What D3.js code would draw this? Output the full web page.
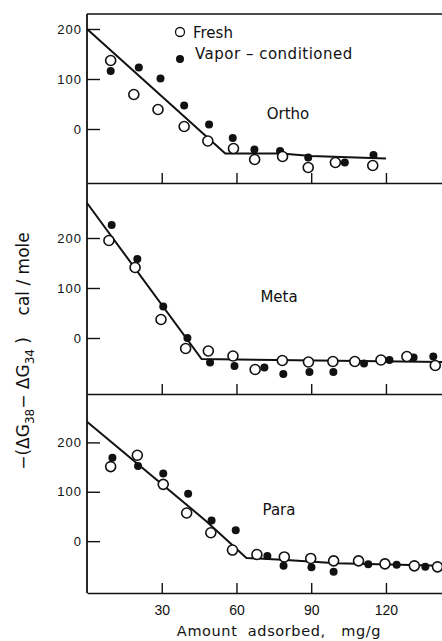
<!DOCTYPE html>
<html>
<head>
<meta charset="utf-8">
<script src="https://cdn.jsdelivr.net/npm/d3@7"></script>
<style>
	body { margin: 0; background: #fff; }
	svg { display: block; font-family: "DejaVu Sans", sans-serif; }
</style>
</head>
<body>
<svg id="chart" width="442" height="641"></svg>
<script>
// Data [amount adsorbed mg/g, -(dG38 - dG34) cal/mole]
const orthoFresh = [[9.5,137],[18.8,69],[28.5,39],[39,5],[48.5,-24],[58.8,-39],[67.3,-61],[78.5,-55],[88.8,-77],[99.7,-67],[114.7,-73]];
const orthoVapor = [[9.5,116],[20.8,123],[29.5,101],[39,47],[49,9],[58.5,-18],[67.2,-41],[77.5,-44],[88.8,-57],[103.5,-67],[115,-52]];
const orthoLine = [[0,200],[55.5,-49],[78,-49],[90,-54],[120,-59]];

const metaFresh = [[8.8,195],[19.3,141],[29.7,37],[39.6,-21],[48.7,-26],[58.6,-36],[67.5,-63],[78.4,-45],[88.9,-48],[98.7,-47],[107.5,-47],[118,-44],[128.4,-37],[139.8,-55]];
const metaVapor = [[9.9,226],[20.2,158],[30.6,63],[40.3,0],[49.4,-49],[59.2,-56],[71.2,-59],[78.8,-72],[89.3,-68],[98.9,-68],[111.2,-51],[121.4,-44],[131.1,-39],[139,-37]];
const metaLine = [[0,270],[46,-42],[143,-48]];

const paraFresh = [[9.5,151],[20.2,174],[30.6,115],[40,57],[49.7,17],[58.4,-18],[68.2,-27],[79.2,-32],[89.8,-35],[99,-40],[109,-40],[119.6,-46],[131.4,-50],[140.7,-52]];
const paraVapor = [[10.2,169],[20.5,152],[30.6,137],[40.6,96],[50,42],[59.7,22],[72.4,-30],[78.9,-50],[90.1,-53],[99,-62],[112.9,-47],[124.3,-48],[135.8,-52]];
const paraLine = [[0,242],[48,40],[64,-34],[80,-38],[100,-45],[143,-50]];

const xTicks = [30, 60, 90, 120];
const yTicks = [0, 100, 200];

const panels = [
	{ name: "Ortho", fresh: orthoFresh, vapor: orthoVapor, line: orthoLine, top: 14, bottom: 183, domain: [-108, 230], lx: 288, ly: 119 },
	{ name: "Meta", fresh: metaFresh, vapor: metaVapor, line: metaLine, top: 183, bottom: 394, domain: [-112, 310], lx: 279, ly: 302 },
	{ name: "Para", fresh: paraFresh, vapor: paraVapor, line: paraLine, top: 394, bottom: 593, domain: [-105, 298], lx: 279, ly: 515 }
];

const svg = d3.select("#chart");
const x = d3.scaleLinear().domain([0, 142.5]).range([87, 442]);

panels.forEach(function (p, i) {
	const y = d3.scaleLinear().domain(p.domain).range([p.bottom, p.top]);

	// y ticks, pointing inwards
	svg.append("g")
		.attr("transform", "translate(" + x(0) + ",0)")
		.call(d3.axisLeft(y).tickValues(yTicks).tickSizeInner(-13).tickSizeOuter(0).tickPadding(20))
		.call(g => g.select(".domain").remove())
		.call(g => g.selectAll("line").attr("stroke", "#111").attr("stroke-width", 1.4))
		.call(g => g.selectAll("text").attr("fill", "#111").style("font-size", "13px")
			.style("letter-spacing", "1px").attr("dx", "15px"));

	// x ticks on the bottom of every panel
	svg.append("g")
		.attr("transform", "translate(0," + p.bottom + ")")
		.call(d3.axisBottom(x).tickValues(xTicks).tickSizeInner(-10).tickSizeOuter(0).tickPadding(12))
		.call(g => g.select(".domain").attr("stroke", "#111").attr("stroke-width", 1.6))
		.call(g => g.selectAll("line").attr("stroke", "#111").attr("stroke-width", 1.4))
		.call(g => g.selectAll("text").attr("fill", "#111").style("font-size", "14px")
			.style("display", i === 2 ? null : "none"));

	// fitted line
	svg.append("path")
		.datum(p.line)
		.attr("fill", "none")
		.attr("stroke", "#111")
		.attr("stroke-width", 2)
		.attr("d", d3.line().x(d => x(d[0])).y(d => y(d[1])));

	// vapor-conditioned
	svg.append("g")
		.selectAll("circle")
		.data(p.vapor)
		.join("circle")
		.attr("cx", d => x(d[0]))
		.attr("cy", d => y(d[1]))
		.attr("r", 4)
		.attr("fill", "#111");

	// fresh
	svg.append("g")
		.selectAll("circle")
		.data(p.fresh)
		.join("circle")
		.attr("cx", d => x(d[0]))
		.attr("cy", d => y(d[1]))
		.attr("r", 5)
		.attr("fill", "#fff")
		.attr("stroke", "#111")
		.attr("stroke-width", 1.6);

	svg.append("text")
		.attr("x", p.lx)
		.attr("y", p.ly)
		.attr("text-anchor", "middle")
		.style("font-size", "15px")
		.attr("fill", "#111")
		.text(p.name);
});

// frame: left axis and top border
svg.append("line")
	.attr("x1", x(0)).attr("x2", x(0))
	.attr("y1", 14).attr("y2", 593)
	.attr("stroke", "#111").attr("stroke-width", 1.8);
svg.append("line")
	.attr("x1", x(0)).attr("x2", 442)
	.attr("y1", 14).attr("y2", 14)
	.attr("stroke", "#111").attr("stroke-width", 1.6);

// Legend
svg.append("circle").attr("cx", 180).attr("cy", 32).attr("r", 4.5)
	.attr("fill", "#fff").attr("stroke", "#111").attr("stroke-width", 1.3);
svg.append("circle").attr("cx", 180).attr("cy", 59).attr("r", 4).attr("fill", "#111");
svg.append("text").attr("x", 193).attr("y", 38).style("font-size", "15px").attr("fill", "#111").text("Fresh");
svg.append("text").attr("x", 195).attr("y", 59).style("font-size", "15px").attr("fill", "#111")
	.style("letter-spacing", "0.5px").text("Vapor – conditioned");

// Axis titles
svg.append("text")
	.attr("x", 279).attr("y", 636)
	.attr("text-anchor", "middle")
	.style("font-size", "14.5px")
	.style("letter-spacing", "0.6px")
	.attr("fill", "#111")
	.attr("xml:space", "preserve")
	.text("Amount  adsorbed,   mg/g");

const yTitle = svg.append("text")
	.attr("transform", "translate(29,351) rotate(-90)")
	.attr("text-anchor", "middle")
	.style("font-size", "17px")
	.attr("fill", "#111")
	.attr("xml:space", "preserve");
yTitle.append("tspan").text("−(ΔG");
yTitle.append("tspan").attr("dy", 5).style("font-size", "12px").text("38");
yTitle.append("tspan").attr("dy", -5).text("− ΔG");
yTitle.append("tspan").attr("dy", 5).style("font-size", "12px").text("34");
yTitle.append("tspan").attr("dy", -5).text(" )    cal / mole");
</script>
</body>
</html>
